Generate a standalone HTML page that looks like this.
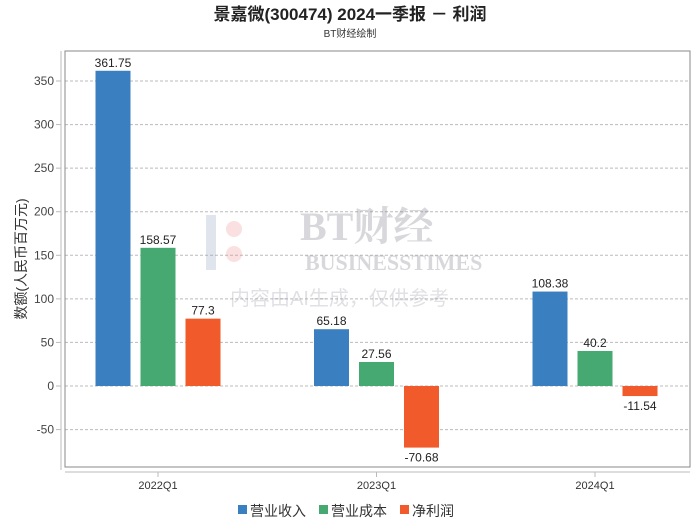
<!DOCTYPE html>
<html><head><meta charset="utf-8"><style>
body{margin:0;background:#fff;font-family:"Liberation Sans","Noto Sans CJK SC",sans-serif}
</style></head><body>
<svg width="700" height="524" viewBox="0 0 700 524" font-family="Liberation Sans, Noto Sans CJK SC, sans-serif">
<text x="350" y="20" text-anchor="middle" font-size="17" font-weight="bold" fill="#222">景嘉微(300474) 2024一季报 － 利润</text>
<text x="350" y="37" text-anchor="middle" font-size="10" fill="#333">BT财经绘制</text>
<g id="grid"></g>
<g opacity="0.25">
<text x="300" y="240" font-size="40" font-weight="bold" fill="#667" font-family="Liberation Serif, Noto Serif CJK SC, serif">BT财经</text>
<text x="305" y="270" font-size="22" font-weight="bold" fill="#667" font-family="Liberation Serif, serif">BUSINESSTIMES</text>
<text x="230" y="305" font-size="20" fill="#889">内容由AI生成，仅供参考</text>
<rect x="206" y="215" width="10" height="55" fill="#89b"/>
<circle cx="234" cy="229" r="8" fill="#e88"/><circle cx="234" cy="254" r="8" fill="#e88"/>
</g>
<rect x="65" y="51" width="625" height="416" fill="none" stroke="#888"/>
<line x1="61" y1="51" x2="61" y2="470" stroke="#bbb"/>
<line x1="65" y1="472" x2="690" y2="472" stroke="#bbb"/>
<g id="yticks"></g><g id="bars"></g><g id="xticks"></g>
<text transform="translate(26,259) rotate(-90)" text-anchor="middle" font-size="14" fill="#333">数额(人民币百万元)</text>
<g font-size="14" fill="#333">
<rect x="238" y="505" width="9" height="9" fill="#3a80c0"/><text x="250" y="516">营业收入</text>
<rect x="319" y="505" width="9" height="9" fill="#47a972"/><text x="331" y="516">营业成本</text>
<rect x="400" y="505" width="9" height="9" fill="#f15a2a"/><text x="412" y="516">净利润</text>
</g>
</svg>
<script>
const categories=["2022Q1","2023Q1","2024Q1"];
const revenue=[361.75,65.18,108.38];
const cost=[158.57,27.56,40.2];
const profit=[77.3,-70.68,-11.54];
const yTicks=[-50,0,50,100,150,200,250,300,350];
const NS="http://www.w3.org/2000/svg";
const y=v=>386-v*0.8714;
const xc=i=>158+i*218.5;
const grid=document.getElementById('grid'),yt=document.getElementById('yticks'),bars=document.getElementById('bars'),xt=document.getElementById('xticks');
function mk(tag,attrs,parent){const e=document.createElementNS(NS,tag);for(const k in attrs)e.setAttribute(k,attrs[k]);parent.appendChild(e);return e;}
yTicks.forEach(t=>{
 const l=mk('line',{x1:65,x2:690,y1:y(t),y2:y(t),stroke:'#bbb','stroke-dasharray':'3,2'},grid);
 
 
 const tk=mk('line',{x1:56,x2:61,y1:y(t),y2:y(t),stroke:'#bbb'},yt);
 
 
 const tx=mk('text',{x:54,y:y(t)+4,'text-anchor':'end','font-size':12,fill:'#444'},yt);
 tx.textContent=t;
 
 
});
const series=[[revenue,'#3a80c0','revenue'],[cost,'#47a972','cost'],[profit,'#f15a2a','profit']];
categories.forEach((c,i)=>{
 series.forEach((s,j)=>{
  const v=s[0][i],cx=xc(i)+(j-1)*45;
  const top=Math.min(y(v),y(0)),h=Math.abs(y(v)-y(0));
  const r=mk('rect',{x:cx-17.5,y:top,width:35,height:h,fill:s[1]},bars);
  
  
  const t=mk('text',{x:cx,y:v>=0?y(v)-4:y(v)+14,'text-anchor':'middle','font-size':12,fill:'#222'},bars);
  t.textContent=v;
  
  
 });
 const tk=mk('line',{x1:xc(i),x2:xc(i),y1:472,y2:477,stroke:'#bbb'},xt);
 
 
 const tx=mk('text',{x:xc(i),y:489,'text-anchor':'middle','font-size':11,fill:'#333'},xt);
 tx.textContent=c;
 
 
});
</script>
</body></html>
